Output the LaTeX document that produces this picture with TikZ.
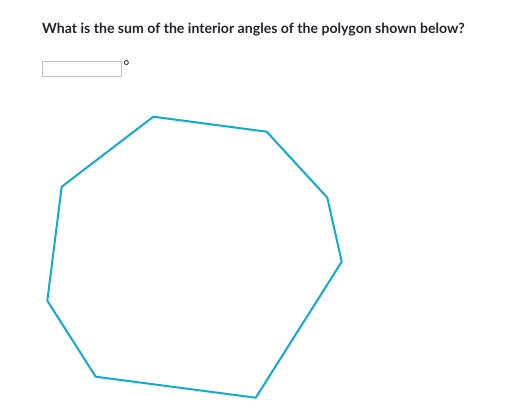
\documentclass[tikz,border=0pt]{standalone}
\usepackage{fontspec}
\setmainfont{Lato}
\usetikzlibrary{positioning}
\definecolor{kablue}{HTML}{11ACCD}
\definecolor{kagray}{HTML}{21242C}
\tikzset{question/.style={font=\bfseries\fontsize{14.1}{17}\selectfont,text=kagray,inner sep=0pt}}
\tikzset{answerbox/.style={rectangle,draw=black!25,line width=0.8pt,minimum width=79pt,minimum height=15pt,inner sep=0pt}}
\tikzset{degsign/.style={font=\fontsize{15}{16}\selectfont,text=kagray,inner sep=0pt}}
\tikzset{polyside/.style={draw=kablue,line width=2pt,line join=round}}

\begin{document}
\begin{tikzpicture}[x=1pt,y=-1pt]
\useasboundingbox (0,0) rectangle (514,415);
	\node (quest) [question, anchor=base west] at (42,33) {What is the sum of the interior angles of the polygon shown below?} ;
	\node (answer) [answerbox, anchor=north west] at (42.3,61) {} ;
	\node (deg) [degsign, anchor=north west] at ([xshift=1pt,yshift=1pt]answer.north east) {°} ;
	% polygon corners
	\coordinate (p1) at (153.3,116.7);
	\coordinate (p2) at (266.7,131.7);
	\coordinate (p3) at (327.3,197.7);
	\coordinate (p4) at (341.7,261.7);
	\coordinate (p5) at (255.7,397.7);
	\coordinate (p6) at (95.7,376.7);
	\coordinate (p7) at (47.3,300.7);
	\coordinate (p8) at (61.7,186.7);
	\draw [polyside] (p1) -- (p2) -- (p3) -- (p4) -- (p5) -- (p6) -- (p7) -- (p8) -- cycle;
\end{tikzpicture}
\end{document}
